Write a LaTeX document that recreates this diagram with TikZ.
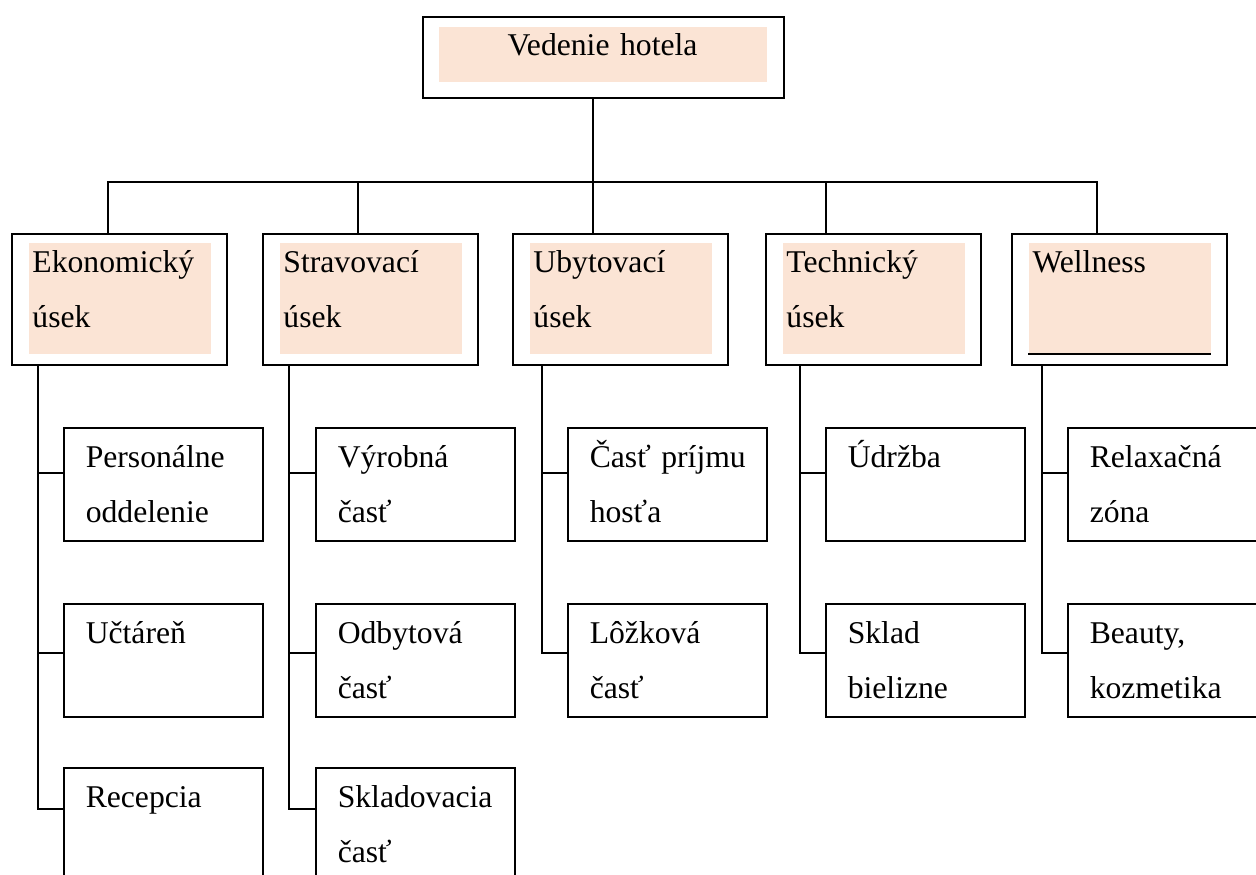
\documentclass[tikz,border=0pt]{standalone}
\usepackage{fontspec}
\setmainfont{Liberation Serif}
\usepackage{xcolor}
\definecolor{peach}{RGB}{251,228,213}

\tikzset{
  link/.style={draw, line width=0.65pt},
  headbox/.style={draw, line width=0.65pt, inner sep=0pt,
    minimum width=136.8pt, minimum height=30.7pt},
  headfill/.style={fill=peach, inner sep=0pt, text width=124.3pt,
    align=center, text height=11pt, text depth=10.2pt},
  deptbox/.style={draw, line width=0.7pt, inner sep=0pt,
    minimum width=81.5pt, minimum height=49.6pt},
  deptfill/.style={fill=peach, inner xsep=1.5pt, inner ysep=0pt,
    text width=66pt, align=left, text height=11.4pt, text depth=30.7pt},
  childbox/.style={draw, line width=0.65pt, inner xsep=8.3pt, inner ysep=0pt,
    text width=58.8pt, align=left, text height=15.2pt, text depth=27.6pt}
}

\begin{document}
\begin{tikzpicture}[x=0.379pt, y=-0.379pt, font=\fontsize{12pt}{20.8pt}\selectfont]
  \useasboundingbox (0,0) rectangle (1256,874);
  \clip (0,0) rectangle (1256,874);

  % top of the chart
  \node[headbox, anchor=north west] (vedenie) at (422,16) {};
  \node[headfill, anchor=north west] (vedenie-txt) at (438,26) {Vedenie hotela};

  % departments
  \foreach \n/\x/\t in {ekon/11/{Ekonomický\\úsek}, strav/262/{Stravovací\\úsek},
      ubyt/512/{Ubytovací\\úsek}, tech/765/{Technický\\úsek}, well/1011/{Wellness}} {
    \node[deptbox, anchor=north west] (\n) at (\x,233) {};
    \node[deptfill, anchor=north west] (\n-txt) at (\x+17,242) {\t};
  }
  \draw[line width=0.8pt] (well-txt.south west) -- (well-txt.south east);

  % sections
  \foreach \n/\x/\y/\t in {pers/63/427/{Personálne\\oddelenie}, uct/63/603/{Učtáreň},
      rec/63/767/{Recepcia}, vyr/315/427/{Výrobná\\časť}, odb/315/603/{Odbytová\\časť},
      sklad/315/767/{Skladovacia\\časť}, prij/567/427/{\mbox{Časť príjmu}\\hosťa},
      lozk/567/603/{Lôžková\\časť}, udr/825/427/{Údržba}, bie/825/603/{Sklad\\bielizne},
      rel/1067/427/{Relaxačná\\zóna}, bea/1067/603/{Beauty,\\kozmetika}}
    \node[childbox, anchor=north west] (\n) at (\x,\y) {\t};

  % bus under the top box
  \coordinate (bus1) at (108,182);
  \coordinate (bus2) at (358,182);
  \coordinate (bus3) at (593,182);
  \coordinate (bus4) at (826,182);
  \coordinate (bus5) at (1097,182);
  \draw[link] (vedenie.south -| bus3) -- (bus3);
  \draw[link] (ekon.north -| bus1) -- (bus1) -- (bus5) -- (well.north -| bus5);
  \foreach \d/\b in {strav/bus2, ubyt/bus3, tech/bus4}
    \draw[link] (\b) -- (\d.north -| \b);

  % trunks down to the sections
  \coordinate (trunk1) at (38,364);
  \coordinate (trunk2) at (289,364);
  \coordinate (trunk3) at (542,364);
  \coordinate (trunk4) at (800,364);
  \coordinate (trunk5) at (1042,364);
  \foreach \d/\k/\c/\s in {ekon/1/pers/17.4pt, ekon/1/uct/19pt, ekon/1/rec/15.9pt,
      strav/2/vyr/17.4pt, strav/2/odb/19pt, strav/2/sklad/15.9pt,
      ubyt/3/prij/17.4pt, ubyt/3/lozk/19pt, tech/4/udr/17.4pt, tech/4/bie/19pt,
      well/5/rel/17.4pt, well/5/bea/19pt}
    \draw[link] (\d.south -| trunk\k) |- ([yshift=-\s]\c.north west);
\end{tikzpicture}
\end{document}
